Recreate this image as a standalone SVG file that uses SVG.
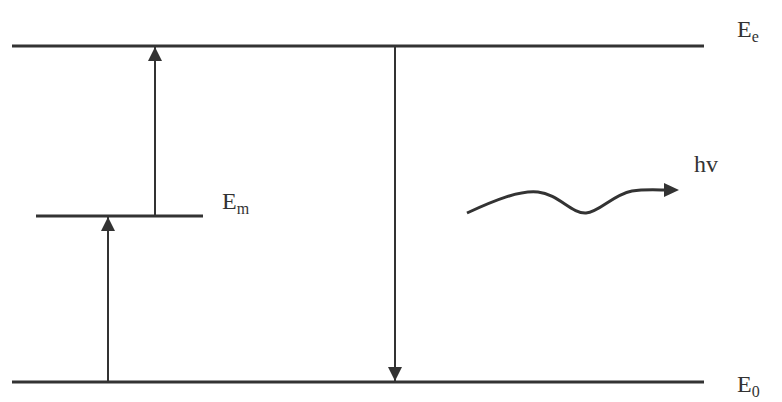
<svg xmlns="http://www.w3.org/2000/svg" width="782" height="402" viewBox="0 0 782 402">
<style>
.lvl{stroke:#333;stroke-width:3;fill:none}
.arr{stroke:#333;stroke-width:2;fill:none}
.t{font-family:"Liberation Serif",serif;font-size:24px;fill:#333}
.s{font-size:16px}
</style>
<defs>
<marker id="ah2" viewBox="0 0 10 10" refX="10" refY="5" markerWidth="14" markerHeight="14" markerUnits="userSpaceOnUse" orient="auto">
<path d="M0,0 L10,5 L0,10 Z" fill="#333"/>
</marker>
</defs>
<rect width="782" height="402" fill="#fff"/>
<g id="level-Ee">
<line class="lvl" x1="12" y1="46" x2="704" y2="46"/>
<text class="t" x="737" y="37">E<tspan class="s" dy="5">e</tspan></text>
</g>
<g id="level-Em">
<line class="lvl" x1="36" y1="216" x2="203" y2="216"/>
<text class="t" x="222" y="209">E<tspan class="s" dy="5">m</tspan></text>
</g>
<g id="level-E0">
<line class="lvl" x1="12" y1="382" x2="704" y2="382"/>
<text class="t" x="737" y="392">E<tspan class="s" dy="5">0</tspan></text>
</g>
<g id="photon">
<text class="t" x="694" y="172">hv</text>
</g>
<g id="connectors">
<line class="arr" x1="108" y1="381" x2="108" y2="217" marker-end="url(#ah2)"/>
<line class="arr" x1="155" y1="215" x2="155" y2="47" marker-end="url(#ah2)"/>
<line class="arr" x1="395" y1="47" x2="395" y2="381" marker-end="url(#ah2)"/>
<path d="M467,213 C495,200 520,190 538,192 C558,194 572,214 586,213 C600,212 612,195 632,191 C645,189 660,190 666,190" stroke="#333" stroke-width="3" fill="none"/>
<path d="M664,183 L679,190 L664,197 Z" fill="#333"/>
</g>
</svg>
